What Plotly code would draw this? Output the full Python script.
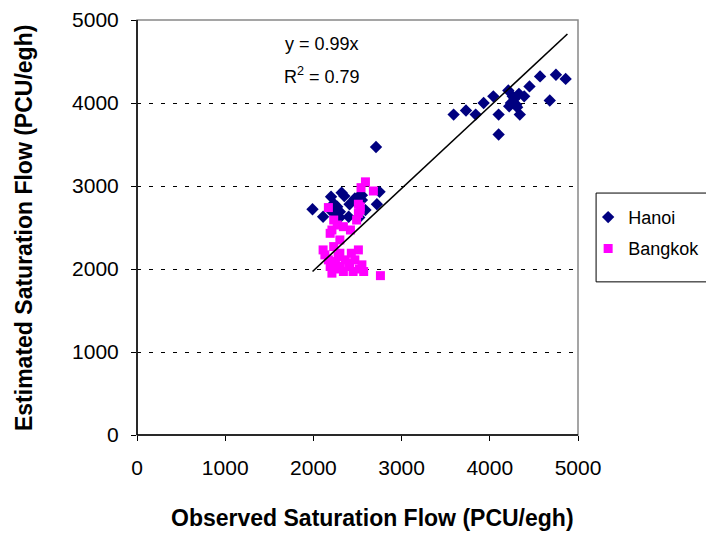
import plotly.graph_objects as go

hanoi_x = [1990, 2110, 2200, 2320, 2190, 2230, 2270, 2300, 2300, 2410, 2470, 2510, 2550, 2550,
           2590, 2400, 2520, 2720, 2750, 2710, 2350, 2250,
           3590, 3730, 3840, 3930, 4040, 4100, 4100, 4210, 4240, 4280, 4300, 4330, 4340, 4220,
           4390, 4450, 4570, 4750, 4860, 4680, 4260, 4310]
hanoi_y = [2720, 2630, 2870, 2920, 2710, 2790, 2750, 2690, 2620, 2780, 2850, 2870, 2890, 2830,
           2710, 2630, 2620, 2780, 2930, 3470, 2880, 2660,
           3860, 3910, 3860, 4000, 4080, 3860, 3620, 4150, 4000, 4050, 3980, 4110, 3860, 3960,
           4080, 4200, 4320, 4340, 4290, 4030, 4080, 3950]

bangkok_x = [2590, 2540, 2680, 2170, 2530, 2510, 2230, 2270, 2340, 2190, 2420, 2490, 2300, 2510,
             2530, 2210,
             2110, 2230, 2300, 2430, 2510, 2170, 2250, 2360, 2470, 2190, 2300, 2410, 2550, 2570,
             2210, 2340, 2450, 2760, 2130, 2280, 2400, 2520, 2260]
bangkok_y = [3050, 2980, 2940, 2740, 2750, 2670, 2590, 2530, 2510, 2430, 2470, 2590, 2350, 2780,
             2710, 2470,
             2230, 2270, 2190, 2190, 2230, 2110, 2090, 2110, 2110, 2030, 2030, 2030, 2050, 1970,
             1950, 1970, 1970, 1920, 2170, 2150, 2070, 2000, 2000]

slope = 0.99
r2 = 0.79
trend_x = [1990, 4880]
trend_y = [slope * v for v in trend_x]

tick_vals = [0, 1000, 2000, 3000, 4000, 5000]
tick_text = ["0", "1000", "2000", "3000", "4000", "5000"]

FONT = "Liberation Sans, Arial, sans-serif"

fig = go.Figure()
fig.add_trace(go.Scatter(x=hanoi_x, y=hanoi_y, mode="markers", name="Hanoi",
                         legendgroup="h",
                         marker=dict(symbol="diamond", size=9.5, color="#000080")))
fig.add_trace(go.Scatter(x=bangkok_x, y=bangkok_y, mode="markers", name="Bangkok",
                         legendgroup="b",
                         marker=dict(symbol="square", size=9, color="#FF00FF")))
fig.add_trace(go.Scatter(x=trend_x, y=trend_y, mode="lines", showlegend=False,
                         line=dict(color="black", width=1.6)))

axis_common = dict(
    range=[0, 5000], tickvals=tick_vals, ticktext=tick_text,
    ticks="outside", ticklen=5, tickcolor="black", tickwidth=1,
    tickfont=dict(family=FONT, size=21, color="black"),
    zeroline=False, showline=False,
)

fig.update_layout(
    width=706, height=533,
    margin=dict(l=137, r=128, t=20, b=98, autoexpand=False),
    paper_bgcolor="white", plot_bgcolor="white",
    font=dict(family=FONT, color="black"),
    xaxis=dict(**axis_common, showgrid=False, ticklabelstandoff=9),
    yaxis=dict(**axis_common, showgrid=True, gridcolor="black", gridwidth=1,
               griddash="4px,8px", ticklabelstandoff=8),
    legend=dict(x=1.023, y=0.569, xanchor="left", yanchor="top",
                borderwidth=0, bgcolor="rgba(0,0,0,0)",
                font=dict(family=FONT, size=18, color="black"),
                tracegroupgap=5),
    shapes=[
        dict(type="rect", xref="paper", yref="paper", x0=0, y0=0, x1=1, y1=1,
             line=dict(color="#888888", width=1.5)),
        dict(type="line", xref="paper", yref="paper", x0=0, y0=0, x1=0, y1=1,
             line=dict(color="black", width=1.5)),
        dict(type="line", xref="paper", yref="paper", x0=0, y0=0, x1=1, y1=0,
             line=dict(color="black", width=1.5)),
        dict(type="rect", xref="paper", yref="paper", x0=1.041, y0=0.369, x1=1.30, y1=0.583,
             line=dict(color="black", width=1)),
    ],
    annotations=[
        dict(text="y = 0.99x", xref="paper", yref="paper", x=0.419, y=0.943,
             xanchor="center", yanchor="middle",
             showarrow=False, font=dict(family=FONT, size=18)),
        dict(text="R<sup>2</sup> = 0.79", xref="paper", yref="paper", x=0.419, y=0.866,
             xanchor="center", yanchor="middle",
             showarrow=False, font=dict(family=FONT, size=18)),
        dict(text="<b>Observed Saturation Flow (PCU/egh)</b>", xref="paper", yref="paper",
             x=0.533, y=-0.2, xanchor="center", yanchor="middle", showarrow=False,
             font=dict(family=FONT, size=23)),
        dict(text="<b>Estimated Saturation Flow (PCU/egh)</b>", xref="paper", yref="paper",
             x=-0.256, y=0.499, xanchor="center", yanchor="middle", textangle=-90,
             showarrow=False, font=dict(family=FONT, size=23)),
    ],
)

fig.write_html("out.html")
